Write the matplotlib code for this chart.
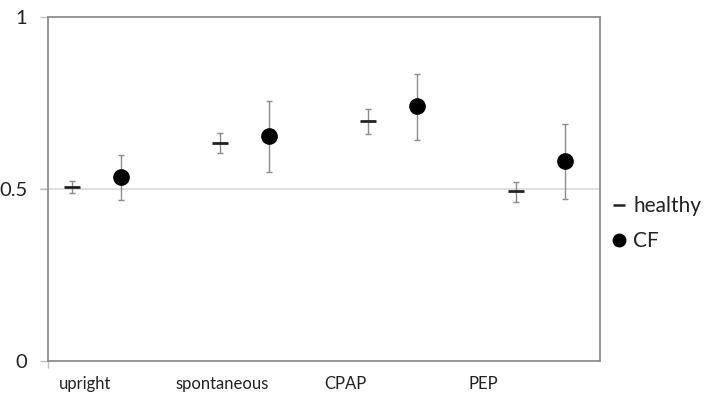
import matplotlib
matplotlib.use("Agg")
import matplotlib.pyplot as plt
import numpy as np
from matplotlib.transforms import blended_transform_factory

plt.rcParams['font.family'] = ['Lato', 'DejaVu Sans']

categories = ["upright", "spontaneous", "CPAP", "PEP"]
healthy_mean = [0.506, 0.634, 0.698, 0.494]
healthy_low = [0.488, 0.605, 0.660, 0.462]
healthy_high = [0.523, 0.663, 0.733, 0.520]
cf_mean = [0.535, 0.654, 0.741, 0.581]
cf_low = [0.468, 0.549, 0.642, 0.471]
cf_high = [0.599, 0.756, 0.834, 0.689]
yticks = [0, 0.5, 1]
ytick_labels = ["0", "0.5", "1"]

fig = plt.figure(figsize=(7.09, 4.04), dpi=100)
ax = fig.add_axes([48/709, 43/404, 552/709, 344/404])

x = np.arange(1, len(categories) + 1)
off = 0.166
hm = np.array(healthy_mean); cm = np.array(cf_mean)
h_err = [hm - np.array(healthy_low), np.array(healthy_high) - hm]
c_err = [cm - np.array(cf_low), np.array(cf_high) - cm]

ax.axhline(0.5, color='#d9d9d9', lw=1.2, zorder=0, clip_on=False, xmin=-0.012)
ax.errorbar(x - off, hm, yerr=h_err, fmt='none', ecolor='#8c8c8c', elinewidth=1.0,
            capsize=2.5, capthick=1.0, zorder=2)
ax.errorbar(x + off, cm, yerr=c_err, fmt='none', ecolor='#8c8c8c', elinewidth=1.0,
            capsize=2.5, capthick=1.0, zorder=2)
ax.plot(x - off, hm, linestyle='none', marker='_', markersize=11, markeredgewidth=2.0,
        color='#222222', zorder=3, label='healthy')
ax.plot(x + off, cm, linestyle='none', marker='o', markersize=11,
        color='black', zorder=3, label='CF')

ax.set_xlim(0.672, 4.402)
ax.set_ylim(0, 1)
ax.set_yticks(yticks)
ax.set_yticklabels(ytick_labels, fontsize=14.5, color='#222222')
ax.tick_params(axis='y', length=6, width=1, color='#bfbfbf', pad=9)
ax.set_xticks([ax.get_xlim()[0]])
ax.set_xticklabels([""])
ax.tick_params(axis='x', length=5, width=1, color='#bfbfbf')

label_shift = [-0.078, -0.152, -0.321, -0.389]
tr = blended_transform_factory(ax.transData, ax.transAxes)
for xi, lab, s in zip(x, categories, label_shift):
    ax.text(xi + s, -0.068, lab, transform=tr, ha='center', va='center',
            fontsize=12, color='#222222')

for sp in ax.spines.values():
    sp.set_color('#8c8c8c')
    sp.set_linewidth(1.3)

leg = ax.legend(loc='center left', bbox_to_anchor=(605/709, 1 - 223.5/404),
                bbox_transform=fig.transFigure, frameon=False, fontsize=15,
                handlelength=0.5, handletextpad=0.45, labelspacing=0.72,
                borderaxespad=0)
for t in leg.get_texts():
    t.set_color('#222222')
hs = leg.legend_handles
hs[0].set_markersize(8)
hs[0].set_markeredgewidth(1.8)
hs[1].set_markersize(9)

fig.savefig("out.png", dpi=100)
